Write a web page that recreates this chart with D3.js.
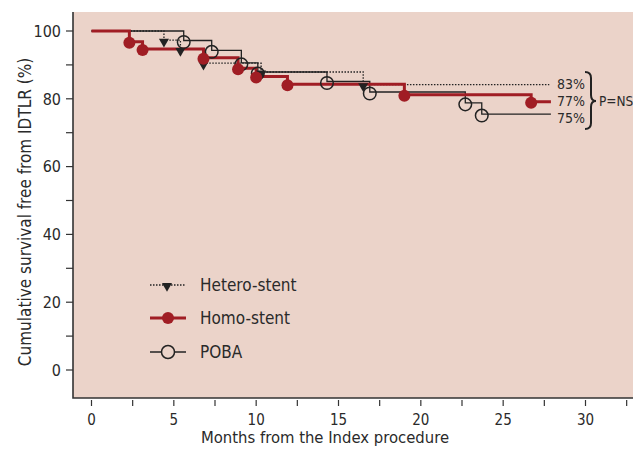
<!DOCTYPE html>
<html>
<head>
<meta charset="utf-8">
<script src="https://cdn.jsdelivr.net/npm/d3@7"></script>
<style>
  body { margin: 0; background: #fff; }
  svg text { font-family: "Liberation Sans Narrow", "DejaVu Sans Condensed", "Roboto", sans-serif; fill: #2a2a2a; }
</style>
</head>
<body>
<div id="chart"></div>
<script>
// Kaplan-Meier steps (month of event, survival % after it)
var heteroMonths = [0, 4.4, 5.4, 6.8, 10.3, 16.5];
var heteroSurv = [100, 97.3, 94.6, 90.5, 87.9, 84.2];
var heteroEnd = 27.8;

var homoMonths = [0, 2.3, 3.1, 6.8, 8.9, 10.0, 11.9, 19.0, 26.7];
var homoSurv = [100, 96.8, 94.7, 92.1, 89.0, 86.6, 84.3, 81.2, 79.1];
var homoEnd = 27.9;

var pobaMonths = [0, 5.6, 7.3, 9.1, 10.1, 14.3, 16.9, 22.7, 23.7];
var pobaSurv = [100, 97.2, 94.3, 90.6, 87.9, 85.1, 82.0, 78.8, 75.5];
var pobaEnd = 27.9;

var xTicks = [0, 5, 10, 15, 20, 25, 30];
var yTicks = [0, 20, 40, 60, 80, 100];
var endLabels = ["83%", "77%", "75%"];
var legendNames = ["Hetero-stent", "Homo-stent", "POBA"];

var W = 633, H = 449;
var bg = "#ebd3c9", red = "#a01d24", ink = "#222";

var svg = d3.select("#chart").append("svg")
  .attr("width", W)
  .attr("height", H);

var x = d3.scaleLinear().domain([0, 30]).range([91.5, 585.5]);
var y = d3.scaleLinear().domain([0, 100]).range([370, 31]);

// plot background + left/bottom frame
svg.append("rect")
  .attr("x", 73).attr("y", 12)
  .attr("width", W - 73).attr("height", 398 - 12)
  .attr("fill", bg);
svg.append("path")
  .attr("d", "M73,12V398H" + W)
  .attr("fill", "none")
  .attr("stroke", "#333")
  .attr("stroke-width", 1.6);

// y axis ticks (majors every 20, minors every 10)
d3.range(0, 101, 10).forEach(function(v){
  svg.append("line")
    .attr("x1", 66).attr("x2", 73)
    .attr("y1", y(v)).attr("y2", y(v))
    .attr("stroke", "#333").attr("stroke-width", 1.2);
});
svg.selectAll(".ylab").data(yTicks).enter().append("text")
  .attr("class", "ylab")
  .attr("x", 61).attr("y", function(d){ return y(d); })
  .attr("dy", "0.36em")
  .attr("text-anchor", "end")
  .style("font-size", "16px")
  .text(function(d){ return d; });

// x axis ticks (majors every 5, minors every 2.5)
d3.range(0, 32.6, 2.5).forEach(function(v){
  svg.append("line")
    .attr("x1", x(v)).attr("x2", x(v))
    .attr("y1", 400).attr("y2", 406)
    .attr("stroke", "#333").attr("stroke-width", 1.2);
});
svg.selectAll(".xlab").data(xTicks).enter().append("text")
  .attr("class", "xlab")
  .attr("x", function(d){ return x(d); }).attr("y", 425)
  .attr("text-anchor", "middle")
  .style("font-size", "15px")
  .text(function(d){ return d; });

svg.append("text")
  .attr("x", 325).attr("y", 443)
  .attr("text-anchor", "middle")
  .style("font-size", "16.5px")
  .text("Months from the Index procedure");

svg.append("text")
  .attr("transform", "translate(31,212) rotate(-90)")
  .attr("text-anchor", "middle")
  .style("font-size", "17px")
  .text("Cumulative survival free from IDTLR (%)");

// build step points for a curve
function steps(months, surv, end){
  var pts = months.map(function(m, i){ return [m, surv[i]]; });
  pts.push([end, surv[surv.length - 1]]);
  return pts;
}
var stepLine = d3.line()
  .x(function(d){ return x(d[0]); })
  .y(function(d){ return y(d[1]); })
  .curve(d3.curveStepAfter);

var tri = d3.symbol().type(d3.symbolTriangle).size(44);

// POBA
svg.append("path")
  .attr("d", stepLine(steps(pobaMonths, pobaSurv, pobaEnd)))
  .attr("fill", "none").attr("stroke", ink).attr("stroke-width", 1.3);
// Hetero
svg.append("path")
  .attr("d", stepLine(steps(heteroMonths, heteroSurv, heteroEnd)))
  .attr("fill", "none").attr("stroke", ink).attr("stroke-width", 1.3)
  .attr("stroke-dasharray", "1.5,1.5");
// Homo
svg.append("path")
  .attr("d", stepLine(steps(homoMonths, homoSurv, homoEnd)))
  .attr("fill", "none").attr("stroke", red).attr("stroke-width", 3);

// markers
svg.selectAll(".poba").data(pobaMonths.slice(1)).enter().append("circle")
  .attr("cx", function(d){ return x(d); })
  .attr("cy", function(d, i){ return y(pobaSurv[i + 1]) + 1.5; })
  .attr("r", 6.3)
  .attr("fill", "none").attr("stroke", ink).attr("stroke-width", 1.5);

svg.selectAll(".hetero").data(heteroMonths.slice(1)).enter().append("path")
  .attr("d", tri)
  .attr("transform", function(d, i){
    return "translate(" + x(d) + "," + (y(heteroSurv[i + 1]) + 1.5) + ") rotate(180)";
  })
  .attr("fill", ink);

svg.selectAll(".homo").data(homoMonths.slice(1)).enter().append("circle")
  .attr("cx", function(d){ return x(d); })
  .attr("cy", function(d, i){ return y(homoSurv[i + 1]) + 1; })
  .attr("r", 6)
  .attr("fill", red);

// end-of-curve labels and brace
var labelY = [84, 101, 118];
svg.selectAll(".endlab").data(endLabels).enter().append("text")
  .attr("x", 557).attr("y", function(d, i){ return labelY[i]; })
  .attr("dy", "0.36em")
  .style("font-size", "14px")
  .text(function(d){ return d; });

svg.append("path")
  .attr("d", "M585,72 Q591,72 591,78 L591,95 Q591,101 596,101 Q591,101 591,107 L591,123 Q591,129 585,129")
  .attr("fill", "none").attr("stroke", "#222").attr("stroke-width", 2);
svg.append("text")
  .attr("x", 599).attr("y", 101).attr("dy", "0.36em")
  .style("font-size", "13.5px")
  .text("P=NS");

// legend
var legY = [285, 318, 352];
var leg = svg.selectAll(".leg").data(legendNames).enter().append("g")
  .attr("transform", function(d, i){ return "translate(150," + legY[i] + ")"; });
leg.append("text")
  .attr("x", 50).attr("dy", "0.36em")
  .style("font-size", "17px")
  .text(function(d){ return d; });

var l0 = d3.select(leg.nodes()[0]);
l0.append("line").attr("x1", 0).attr("x2", 36)
  .attr("stroke", ink).attr("stroke-width", 1.3).attr("stroke-dasharray", "1.5,1.5");
l0.append("path").attr("d", tri).attr("transform", "translate(17,1) rotate(180)").attr("fill", ink);

var l1 = d3.select(leg.nodes()[1]);
l1.append("line").attr("x1", 0).attr("x2", 36)
  .attr("stroke", red).attr("stroke-width", 3);
l1.append("circle").attr("cx", 18).attr("r", 6).attr("fill", red);

var l2 = d3.select(leg.nodes()[2]);
l2.append("line").attr("x1", 0).attr("x2", 36)
  .attr("stroke", ink).attr("stroke-width", 1.3);
l2.append("circle").attr("cx", 18).attr("r", 6.5)
  .attr("fill", bg).attr("stroke", ink).attr("stroke-width", 1.5);
</script>
</body>
</html>
